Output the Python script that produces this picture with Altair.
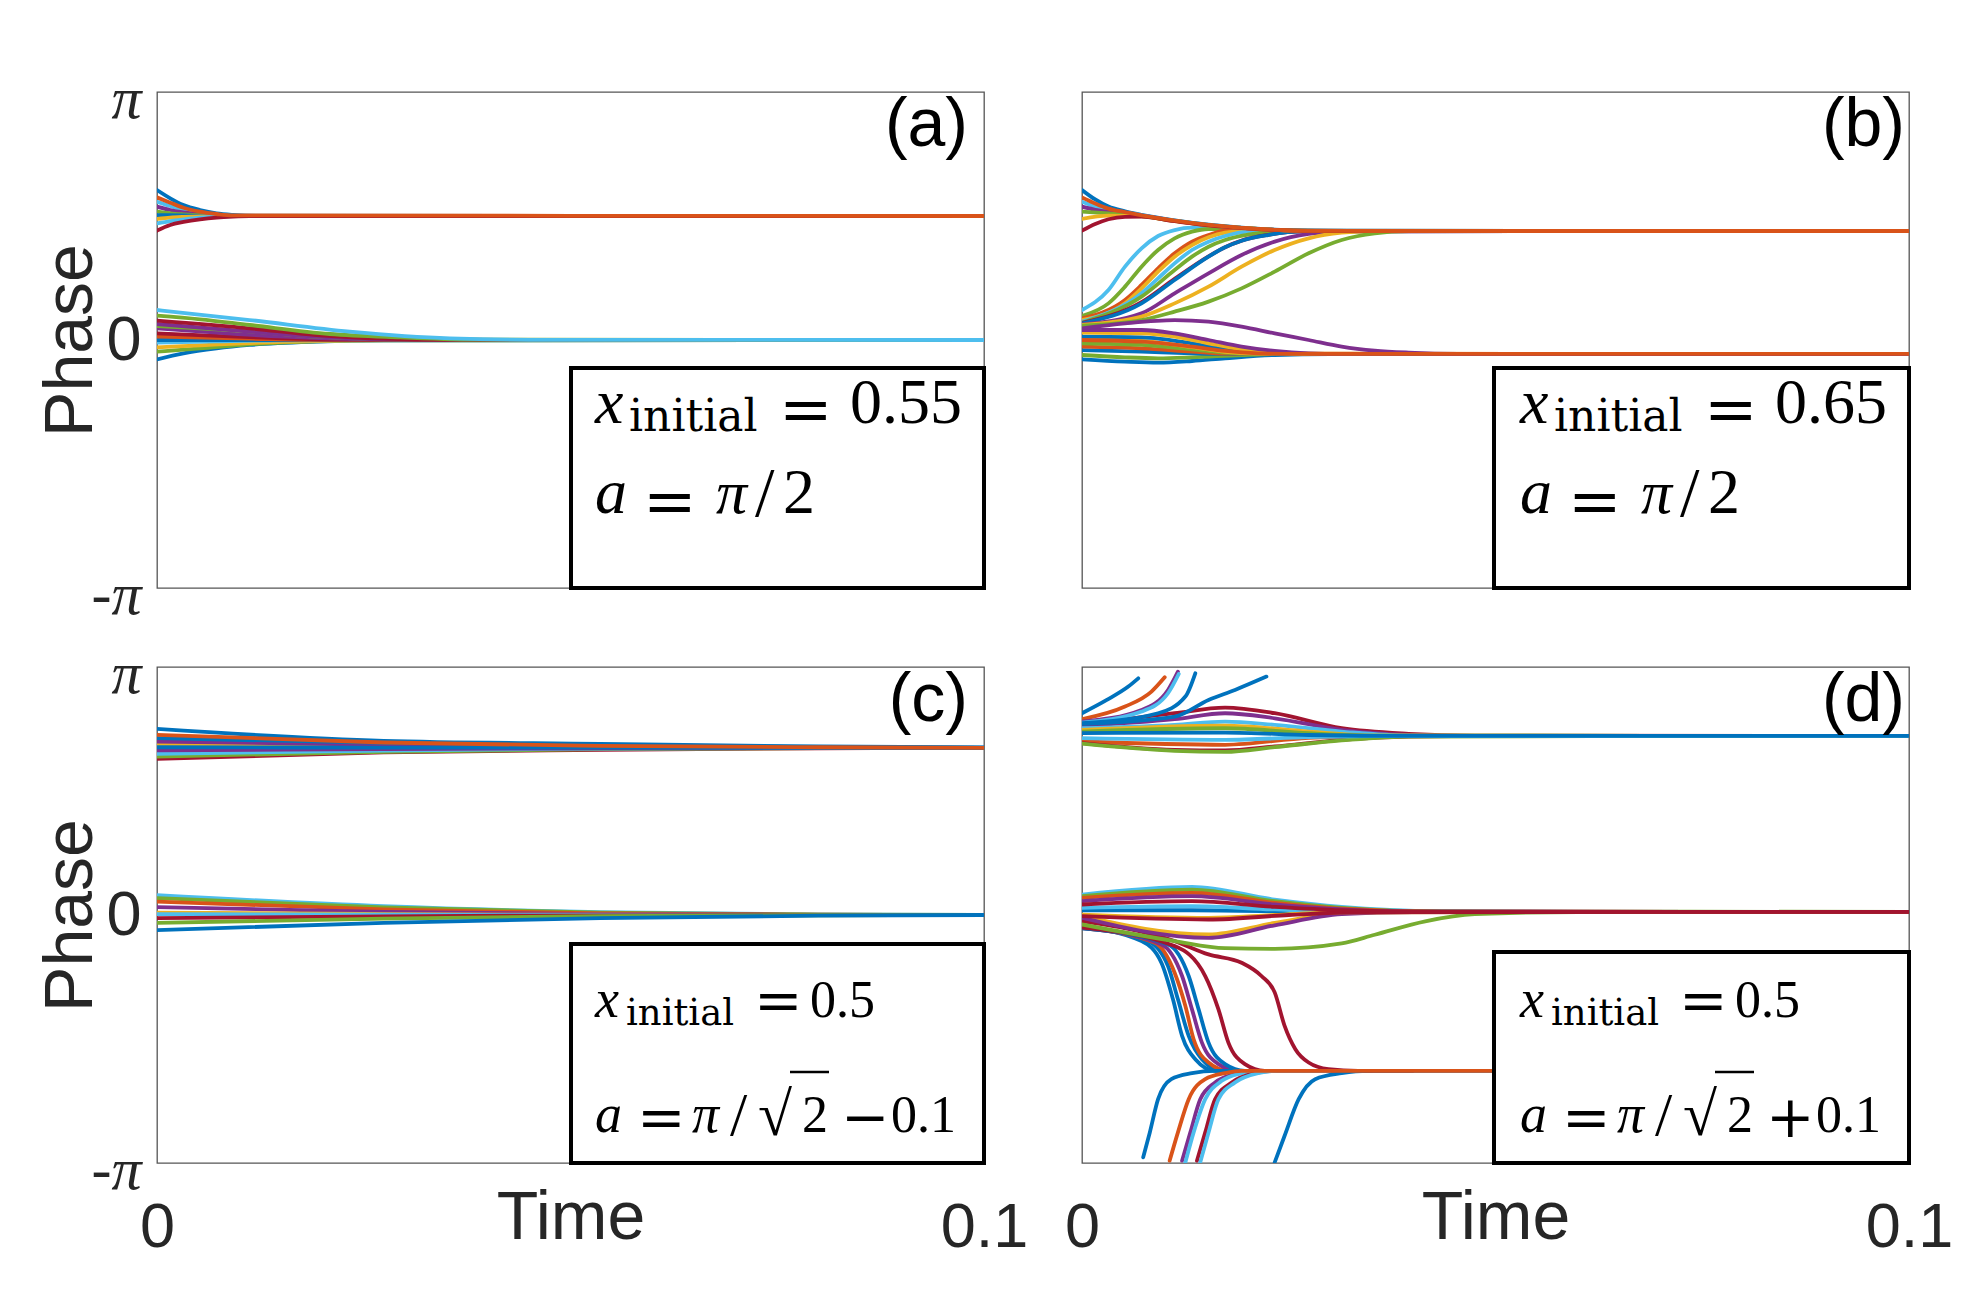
import math
import altair as alt
import pandas as pd

PI = math.pi
W, H = 827, 496
SANS = "Liberation Sans"
SERIF = "Liberation Serif"
WIDE = "DejaVu Serif"
INK = "#262626"

COLORS = {"blue": "#0072BD", "orange": "#D95319", "yellow": "#EDB120", "purple": "#7E2F8E",
          "green": "#77AC30", "cyan": "#4DBEEE", "red": "#A2142F"}

# ---------------- panel (a) ----------------
a_upper = [
    ("blue",   [0, .0016, .0032, .0052, .0072, .0092, .012, .1], [1.900, 1.795, 1.710, 1.647, 1.605, 1.585, 1.573, 1.571]),
    ("cyan",   [0, .0016, .0032, .0052, .0072, .0092, .1], [1.752, 1.697, 1.647, 1.613, 1.588, 1.575, 1.571]),
    ("purple", [0, .0016, .0032, .0052, .0072, .0092, .1], [1.689, 1.647, 1.617, 1.592, 1.580, 1.573, 1.571]),
    ("green",  [0, .0016, .0032, .0052, .0092, .1], [1.626, 1.605, 1.592, 1.580, 1.572, 1.571]),
    ("blue",   [0, .0032, .0072, .1], [1.583, 1.577, 1.572, 1.571]),
    ("yellow", [0, .0016, .0032, .0052, .0092, .1], [1.533, 1.550, 1.559, 1.566, 1.570, 1.571]),
    ("cyan",   [0, .0016, .0032, .0052, .0072, .0092, .1], [1.478, 1.507, 1.528, 1.550, 1.562, 1.568, 1.571]),
    ("red",    [0, .0016, .0032, .0052, .0072, .0092, .0112, .1], [1.385, 1.457, 1.495, 1.528, 1.550, 1.562, 1.568, 1.571]),
    ("orange", [0, .0016, .0032, .0052, .0072, .0092, .1], [1.807, 1.740, 1.676, 1.626, 1.596, 1.578, 1.571]),
]
a_lower = [
    ("blue",   [0, .0032, .0072, .0112, .0193, .0274, .1], [-0.245, -0.169, -0.106, -0.063, -0.021, -0.004, 0.0]),
    ("green",  [0, .0052, .0112, .0193, .0274, .1], [-0.148, -0.106, -0.055, -0.017, -0.004, 0.0]),
    ("yellow", [0, .0052, .0112, .0193, .03, .1], [-0.093, -0.068, -0.038, -0.013, -0.002, 0.0]),
    ("cyan",   [0, .0072, .0153, .1], [-0.034, -0.017, -0.004, 0.0]),
    ("blue",   [0, .1], [0.0, 0.0]),
    ("orange", [0, .0112, .0193, .1], [0.042, 0.017, 0.002, 0.0]),
    ("red",    [0, .0072, .0153, .0233, .1], [0.084, 0.051, 0.021, 0.004, 0.0]),
    ("purple", [0, .0072, .0153, .0233, .035, .1], [0.148, 0.093, 0.042, 0.013, 0.002, 0.0]),
    ("green",  [0, .0112, .0193, .0274, .04, .1], [0.177, 0.110, 0.042, 0.008, 0.001, 0.0]),
    ("purple", [0, .0112, .0193, .0274, .04, .1], [0.203, 0.106, 0.042, 0.008, 0.001, 0.0]),
    ("red",    [0, .0112, .0193, .0274, .035, .1], [0.245, 0.148, 0.063, 0.017, 0.002, 0.0]),
    ("green",  [0, .0052, .0112, .0209, .0294, .0395, .1], [0.308, 0.262, 0.190, 0.076, 0.034, 0.004, 0.0]),
    ("cyan",   [0, .0112, .0233, .0354, .0475, .1], [0.380, 0.253, 0.106, 0.021, 0.002, 0.0]),
]

# ---------------- panel (b) ----------------
b_rising = [
    ("cyan",   [0, .0032, .0052, .0072, .0092, .0112, .0133, .0233, .03, .1], [0.380, 0.633, 0.929, 1.161, 1.317, 1.393, 1.423, 1.395, 1.383, 1.381]),
    ("green",  [0, .0032, .0052, .0072, .0092, .0112, .0133, .0153, .0233, .03, .1], [0.304, 0.464, 0.676, 0.929, 1.140, 1.288, 1.372, 1.406, 1.395, 1.383, 1.381]),
    ("orange", [0, .0052, .0072, .0092, .0112, .0133, .0153, .0173, .0213, .0274, .1], [0.274, 0.507, 0.697, 0.908, 1.098, 1.246, 1.330, 1.385, 1.400, 1.384, 1.381]),
    ("yellow", [0, .0052, .0072, .0092, .0112, .0133, .0153, .0173, .0213, .0274, .1], [0.253, 0.464, 0.654, 0.866, 1.056, 1.203, 1.301, 1.360, 1.395, 1.383, 1.381]),
    ("cyan",   [0, .0072, .0092, .0112, .0133, .0153, .0173, .0201, .025, .1], [0.232, 0.591, 0.781, 0.971, 1.140, 1.246, 1.317, 1.372, 1.385, 1.381]),
    ("green",  [0, .0072, .0112, .0133, .0153, .0173, .0201, .0233, .0274, .1], [0.220, 0.549, 0.887, 1.056, 1.182, 1.267, 1.334, 1.370, 1.381, 1.381]),
    ("red",    [0, .0072, .0112, .0153, .0173, .0193, .0225, .0266, .1], [0.215, 0.480, 0.775, 1.060, 1.176, 1.259, 1.331, 1.375, 1.381]),
    ("blue",   [0, .0072, .0112, .0153, .0173, .0193, .0225, .0266, .1], [0.211, 0.464, 0.760, 1.056, 1.174, 1.258, 1.330, 1.375, 1.381]),
    ("purple", [0, .0072, .0112, .0153, .0193, .0233, .0274, .0314, .1], [0.198, 0.338, 0.591, 0.845, 1.077, 1.246, 1.343, 1.376, 1.381]),
    ("yellow", [0, .0072, .0112, .0153, .0193, .0233, .0274, .0314, .0354, .1], [0.190, 0.296, 0.464, 0.676, 0.929, 1.140, 1.288, 1.360, 1.381, 1.381]),
    ("green",  [0, .0072, .0112, .0153, .0193, .0233, .0274, .0314, .0354, .0395, .1], [0.182, 0.253, 0.359, 0.486, 0.654, 0.866, 1.098, 1.267, 1.351, 1.378, 1.381]),
]
b_upper = [
    ("blue",   [0, .0016, .0032, .0052, .0072, .0112, .0153, .0193, .0233, .0274, .035, .1], [1.900, 1.780, 1.690, 1.630, 1.585, 1.515, 1.460, 1.422, 1.397, 1.385, 1.381, 1.381]),
    ("cyan",   [0, .0016, .0032, .0052, .0072, .0112, .0153, .0193, .0233, .0274, .1], [1.752, 1.690, 1.645, 1.610, 1.580, 1.512, 1.458, 1.421, 1.396, 1.384, 1.381]),
    ("purple", [0, .0016, .0032, .0052, .0072, .0112, .0153, .0193, .0233, .0274, .1], [1.689, 1.650, 1.625, 1.600, 1.575, 1.510, 1.456, 1.420, 1.395, 1.383, 1.381]),
    ("green",  [0, .0032, .0052, .0072, .0112, .0153, .0193, .0233, .0274, .1], [1.626, 1.605, 1.590, 1.570, 1.508, 1.455, 1.420, 1.395, 1.383, 1.381]),
    ("yellow", [0, .0032, .0072, .0112, .0153, .0193, .0233, .0274, .1], [1.533, 1.575, 1.565, 1.505, 1.453, 1.419, 1.394, 1.383, 1.381]),
    ("red",    [0, .0016, .0032, .0052, .0072, .0112, .0153, .0193, .0233, .0274, .1], [1.385, 1.470, 1.530, 1.560, 1.562, 1.505, 1.452, 1.418, 1.394, 1.383, 1.381]),
    ("orange", [0, .0016, .0032, .0052, .0072, .0112, .0153, .0193, .0233, .0274, .035, .1], [1.807, 1.730, 1.665, 1.620, 1.580, 1.513, 1.459, 1.421, 1.396, 1.384, 1.381, 1.381]),
]
b_lower = [
    ("blue",   [0, .0052, .0092, .0133, .0173, .0233, .03, .1], [-0.245, -0.274, -0.287, -0.266, -0.232, -0.190, -0.178, -0.177]),
    ("green",  [0, .0052, .0092, .0133, .0193, .0233, .1], [-0.190, -0.220, -0.232, -0.220, -0.190, -0.178, -0.177]),
    ("blue",   [0, .0072, .0133, .0173, .1], [-0.127, -0.148, -0.169, -0.177, -0.177]),
    ("orange", [0, .0072, .0133, .0173, .1], [-0.084, -0.106, -0.148, -0.173, -0.177]),
    ("green",  [0, .0072, .0133, .0173, .0213, .1], [-0.042, -0.063, -0.118, -0.160, -0.177, -0.177]),
    ("yellow", [0, .0072, .0133, .0173, .0213, .1], [0.010, -0.010, -0.090, -0.150, -0.172, -0.177]),
    ("blue",   [0, .0072, .0133, .0173, .0213, .0254, .1], [0.042, 0.034, -0.042, -0.118, -0.160, -0.175, -0.177]),
    ("yellow", [0, .0072, .0112, .0153, .0193, .0233, .0274, .1], [0.093, 0.084, 0.042, -0.042, -0.118, -0.160, -0.175, -0.177]),
    ("purple", [0, .0072, .0112, .0153, .0193, .0233, .0274, .0314, .1], [0.127, 0.127, 0.084, 0.000, -0.084, -0.139, -0.169, -0.177, -0.177]),
    ("purple", [0, .0052, .0112, .0153, .0193, .0233, .0274, .0314, .0354, .0395, .0455, .1], [0.148, 0.211, 0.253, 0.232, 0.169, 0.084, 0.000, -0.084, -0.135, -0.160, -0.175, -0.177]),
    ("orange", [0, .0072, .0133, .0173, .0213, .0254, .1], [0.000, -0.021, -0.084, -0.139, -0.169, -0.177, -0.177]),
]

# ---------------- panel (c) ----------------
c_upper = [
    ("red",    [0, .0274, .0536, .08, .1], [1.978, 2.059, 2.092, 2.112, 2.118]),
    ("green",  [0, .0274, .0536, .08, .1], [2.008, 2.067, 2.101, 2.113, 2.118]),
    ("cyan",   [0, .0274, .0536, .08, .1], [2.042, 2.084, 2.109, 2.116, 2.118]),
    ("purple", [0, .0274, .0536, .08, .1], [2.085, 2.100, 2.112, 2.117, 2.118]),
    ("yellow", [0, .0274, .0536, .08, .1], [2.160, 2.140, 2.128, 2.121, 2.118]),
    ("purple", [0, .0274, .0536, .08, .1], [2.198, 2.156, 2.135, 2.122, 2.118]),
    ("blue",   [0, .0274, .0536, .08, .1], [2.240, 2.180, 2.150, 2.127, 2.119]),
    ("blue",   [0, .0274, .0536, .08, .1], [2.358, 2.206, 2.168, 2.135, 2.122]),
    ("blue",   [0, .0274, .0536, .08, .1], [2.125, 2.120, 2.119, 2.118, 2.118]),
    ("orange", [0, .0274, .0536, .08, .1], [2.282, 2.185, 2.143, 2.125, 2.118]),
]
c_lower = [
    ("cyan",   [0, .0274, .0536, .08, .1], [0.251, 0.112, 0.036, 0.008, 0.0]),
    ("green",  [0, .0274, .0536, .08, .1], [0.215, 0.095, 0.030, 0.006, 0.0]),
    ("orange", [0, .0274, .0536, .08, .1], [0.170, 0.070, 0.020, 0.004, 0.0]),
    ("purple", [0, .0274, .0536, .08, .1], [0.100, 0.040, 0.010, 0.002, 0.0]),
    ("yellow", [0, .0274, .0536, .1], [0.030, 0.012, 0.003, 0.0]),
    ("cyan",   [0, .0274, .0536, .1], [0.010, 0.004, 0.001, 0.0]),
    ("red",    [0, .0274, .0536, .08, .1], [-0.040, -0.017, -0.005, -0.001, 0.0]),
    ("green",  [0, .0274, .0536, .08, .1], [-0.100, -0.045, -0.015, -0.003, 0.0]),
    ("blue",   [0, .0274, .0536, .08, .1], [-0.192, -0.099, -0.040, -0.008, 0.0]),
]

# ---------------- panel (d) ----------------
d_upper = [
    ("red",    [0, .0112, .0173, .0233, .0314, .0395, .0475, .1], [2.408, 2.556, 2.627, 2.556, 2.366, 2.295, 2.272, 2.269]),
    ("purple", [0, .0112, .0173, .0233, .0314, .0395, .046, .1], [2.396, 2.480, 2.556, 2.492, 2.345, 2.282, 2.270, 2.269]),
    ("cyan",   [0, .0112, .0173, .0233, .0314, .0395, .1], [2.366, 2.408, 2.450, 2.408, 2.324, 2.273, 2.269]),
    ("yellow", [0, .0173, .0274, .0354, .1], [2.345, 2.400, 2.324, 2.273, 2.269]),
    ("green",  [0, .0173, .0274, .0354, .1], [2.324, 2.366, 2.303, 2.273, 2.269]),
    ("orange", [0, .0173, .0274, .0354, .1], [2.198, 2.156, 2.245, 2.265, 2.269]),
    ("red",    [0, .0112, .0173, .0233, .0314, .0395, .0475, .1], [2.177, 2.092, 2.084, 2.135, 2.219, 2.261, 2.268, 2.269]),
    ("green",  [0, .0112, .0173, .0233, .0314, .0395, .1], [2.170, 2.080, 2.067, 2.126, 2.211, 2.261, 2.269]),
    ("cyan",   [0, .0173, .0274, .0354, .1], [2.240, 2.219, 2.253, 2.266, 2.269]),
    ("blue",   [0, .0173, .0274, .0354, .1], [2.303, 2.311, 2.280, 2.270, 2.269]),
]
d_escape = [
    ("blue",   [0, .0030, .0056, .0068], [2.556, 2.725, 2.894, 2.998]),
    ("orange", [0, .0052, .0084, .0100], [2.480, 2.640, 2.830, 3.011]),
    ("purple", [0, .0072, .0104, .0116], [2.450, 2.598, 2.851, 3.083]),
    ("cyan",   [0, .0072, .0104, .0117], [2.438, 2.577, 2.809, 3.053]),
    ("blue",   [0, .0092, .0125, .0137], [2.429, 2.556, 2.767, 3.062]),
    ("blue",   [0, .0112, .0153, .0185, .0223], [2.421, 2.514, 2.725, 2.851, 3.020]),
]
d_falling = [
    ("blue",   [0, .0072, .0096, .0110, .0121, .0137, .0161, .03], [-0.150, -0.331, -0.605, -1.068, -1.531, -1.827, -1.974, -1.974]),
    ("blue",   [0, .0080, .0104, .0116, .0129, .0145, .0169, .03], [-0.158, -0.331, -0.647, -1.068, -1.531, -1.827, -1.974, -1.974]),
    ("orange", [0, .0088, .0112, .0125, .0135, .0153, .0177, .03], [-0.166, -0.352, -0.731, -1.152, -1.574, -1.869, -1.974, -1.974]),
    ("purple", [0, .0096, .0121, .0133, .0145, .0165, .0189, .03], [-0.166, -0.373, -0.773, -1.195, -1.616, -1.890, -1.974, -1.974]),
    ("blue",   [0, .0104, .0129, .0141, .0153, .0173, .0197, .03], [-0.170, -0.373, -0.773, -1.195, -1.616, -1.890, -1.974, -1.974]),
    ("red",    [0, .0112, .0149, .0165, .0177, .0197, .0221, .035], [-0.158, -0.394, -0.773, -1.195, -1.616, -1.890, -1.974, -1.974]),
    ("red",    [0, .0112, .0153, .0193, .0217, .0233, .0245, .0258, .0274, .0298, .0334, .04], [-0.078, -0.331, -0.499, -0.605, -0.773, -0.980, -1.405, -1.700, -1.869, -1.953, -1.974, -1.974]),
]
d_rising = [
    ("blue",   [.0074, .0082, .0092, .0108, .0133, .0161, .03], [-3.070, -2.754, -2.333, -2.080, -2.004, -1.974, -1.974]),
    ("purple", [.0121, .0131, .0143, .0161, .0185, .0205, .03], [-3.112, -2.754, -2.333, -2.122, -2.016, -1.974, -1.974]),
    ("cyan",   [.0125, .0135, .0149, .0169, .0193, .0217, .03], [-3.133, -2.754, -2.333, -2.101, -2.004, -1.974, -1.974]),
    ("red",    [.0139, .0149, .0161, .0181, .0209, .0233, .03], [-3.112, -2.754, -2.333, -2.122, -2.004, -1.974, -1.974]),
    ("cyan",   [.0143, .0153, .0165, .0185, .0213, .0237, .03], [-3.133, -2.754, -2.333, -2.122, -2.004, -1.974, -1.974]),
    ("blue",   [.0233, .0245, .0262, .0282, .0314, .0346, .05], [-3.133, -2.796, -2.333, -2.080, -2.004, -1.974, -1.974]),
    ("orange", [.0106, .0116, .0129, .0149, .0173, .0193, .1], [-3.112, -2.754, -2.333, -2.080, -2.004, -1.974, -1.974]),
]
d_middle = [
    ("blue",   [0, .0133, .03, .1], [0.060, 0.060, 0.040, 0.040]),
    ("cyan",   [0, .0133, .0233, .0314, .0435, .06, .1], [0.259, 0.356, 0.196, 0.103, 0.048, 0.040, 0.040]),
    ("green",  [0, .0133, .0233, .0314, .0435, .1], [0.238, 0.322, 0.175, 0.091, 0.045, 0.040]),
    ("orange", [0, .0133, .0233, .0314, .0435, .1], [0.217, 0.280, 0.154, 0.080, 0.042, 0.040]),
    ("purple", [0, .0133, .0233, .0314, .04, .1], [0.175, 0.238, 0.133, 0.070, 0.042, 0.040]),
    ("cyan",   [0, .0133, .0233, .035, .1], [0.091, 0.112, 0.070, 0.040, 0.040]),
    ("yellow", [0, .0153, .0233, .0314, .04, .1], [-0.015, -0.247, -0.100, 0.020, 0.038, 0.040]),
    ("purple", [0, .0153, .0233, .0314, .04, .1], [-0.036, -0.289, -0.130, 0.010, 0.037, 0.040]),
    ("yellow", [0, .0153, .0233, .0314, .1], [0.006, -0.036, 0.000, 0.035, 0.040]),
    ("green",  [0, .0112, .0173, .0233, .0314, .0354, .0415, .0475, .06, .1], [-0.120, -0.330, -0.420, -0.428, -0.360, -0.250, -0.080, 0.010, 0.038, 0.040]),
    ("red",    [0, .0153, .025, .033, .1], [-0.015, -0.057, 0.000, 0.035, 0.040]),
    ("red",    [0, .0133, .0233, .0314, .04, .1], [0.133, 0.175, 0.103, 0.060, 0.042, 0.040]),
]

ONE = pd.DataFrame({"k": [0]})


def build_df(groups):
    rows = []
    lid = 0
    for group in groups:
        for color, ts, ps in group:
            for k, (t, p) in enumerate(zip(ts, ps)):
                rows.append({"line": lid, "seq": k, "t": t, "phase": p, "col": COLORS[color]})
            lid += 1
    return pd.DataFrame(rows)


def txt(s, x, y, size, italic=False, font=SERIF, align="left", color="black"):
    return alt.Chart(ONE).mark_text(
        text=s, font=font, fontSize=size, fontStyle="italic" if italic else "normal",
        align=align, baseline="alphabetic", color=color,
    ).encode(x=alt.value(x), y=alt.value(y))


X_AXIS = alt.Axis(
    values=[0, 0.1], labelExpr="datum.value == 0 ? '0' : '0.1'",
    labelFont=SANS, labelFontSize=63, labelColor=INK, labelFlush=False,
    labelBaseline="alphabetic", labelPadding=83, ticks=False, tickSize=0,
    domain=False, grid=False,
    title="Time", titleFont=SANS, titleFontSize=68, titleFontWeight="normal",
    titleColor=INK, titleY=75, titleBaseline="alphabetic",
)
Y_AXIS = alt.Axis(
    values=[-PI, 0, PI],
    labelExpr="datum.value > 1 ? 'π' : (datum.value < -1 ? '-π' : '0')",
    labelFont={"condition": {"test": "datum.value == 0", "value": SANS}, "value": SERIF},
    labelFontStyle={"condition": {"test": "datum.value == 0", "value": "normal"}, "value": "italic"},
    labelFontSize={"condition": {"test": "datum.value == 0", "value": 63}, "value": 60},
    labelOffset={"condition": {"test": "datum.value == 0", "value": 0}, "value": 7},
    labelPadding=16, labelBaseline="middle", labelColor=INK,
    ticks=False, tickSize=0, domain=False, grid=False,
    title="Phase", titleFont=SANS, titleFontSize=68, titleFontWeight="normal",
    titleColor=INK, titleX=-66, titleBaseline="alphabetic", titleAngle=270,
)


def panel(groups, label, label_x, box, pieces, xlab, ylab):
    df = build_df(groups)
    lines = alt.Chart(df).mark_line(
        strokeWidth=3.8, interpolate="monotone", clip=True, strokeCap="round", strokeJoin="round"
    ).encode(
        x=alt.X("t:Q", scale=alt.Scale(domain=[0, 0.1], nice=False, zero=False),
                axis=X_AXIS if xlab else None),
        y=alt.Y("phase:Q", scale=alt.Scale(domain=[-PI, PI], nice=False, zero=False),
                axis=Y_AXIS if ylab else None),
        color=alt.Color("col:N", scale=None),
        detail="line:N",
        order="seq:Q",
    )
    bx = alt.Chart(ONE).mark_rect(fill="white", stroke="black", strokeWidth=4).encode(
        x=alt.value(box[0]), x2=alt.value(W), y=alt.value(box[1]), y2=alt.value(H)
    )
    layers = [lines, bx] + pieces + [txt(label, label_x, 54, 68, font=SANS, align="right")]
    return alt.layer(*layers).properties(width=W, height=H)


def top_box_text(value):
    return [
        txt("x", 438, 331, 64, italic=True),
        txt("initial", 472, 339, 44, font=WIDE),
        txt("=", 622, 339, 64, font=WIDE),
        txt(value, 693, 331, 64),
        txt("a", 438, 421, 64, italic=True),
        txt("=", 486, 431, 64, font=WIDE),
        txt("π", 559, 421, 62, italic=True),
        txt("/", 598, 424, 70),
        txt("2", 626, 421, 64),
    ]


def bottom_box_text(sign):
    sqrt_bar = alt.Chart(ONE).mark_rule(color="black", strokeWidth=2.5).encode(
        x=alt.value(633), x2=alt.value(672), y=alt.value(405)
    )
    return [
        txt("x", 438, 350, 54, italic=True),
        txt("initial", 469, 358, 37, font=WIDE),
        txt("=", 597, 353, 58, font=WIDE),
        txt("0.5", 653, 350, 52),
        txt("a", 438, 465, 54, italic=True),
        txt("=", 480, 470, 58, font=WIDE),
        txt("π", 535, 465, 54, italic=True),
        txt("/", 573, 468, 62),
        txt("√", 601, 468, 62),
        sqrt_bar,
        txt("2", 645, 465, 52),
        txt(sign, 684, 470, 58, font=WIDE),
        txt("0.1", 734, 465, 52),
    ]


pa = panel([a_upper, a_lower], "(a)", W - 16, (414, 276), top_box_text("0.55"), False, True)
pb = panel([b_rising, b_upper, b_lower], "(b)", W - 4, (412, 276), top_box_text("0.65"), False, False)
pc = panel([c_upper, c_lower], "(c)", W - 16, (414, 277), bottom_box_text("−"), True, True)
pd_ = panel([d_upper, d_escape, d_falling, d_rising, d_middle], "(d)", W - 4, (412, 285),
            bottom_box_text("+"), True, False)

chart = alt.concat(
    pa, pb, pc, pd_, columns=2, spacing={"row": 79, "column": 98}, bounds="flush"
).properties(
    padding={"left": 36, "top": 68, "right": 10, "bottom": 10}, background="white"
).configure_view(stroke="#555555", strokeWidth=1.3)

chart.save("out.html", embed_options={"renderer": "svg", "actions": False})
